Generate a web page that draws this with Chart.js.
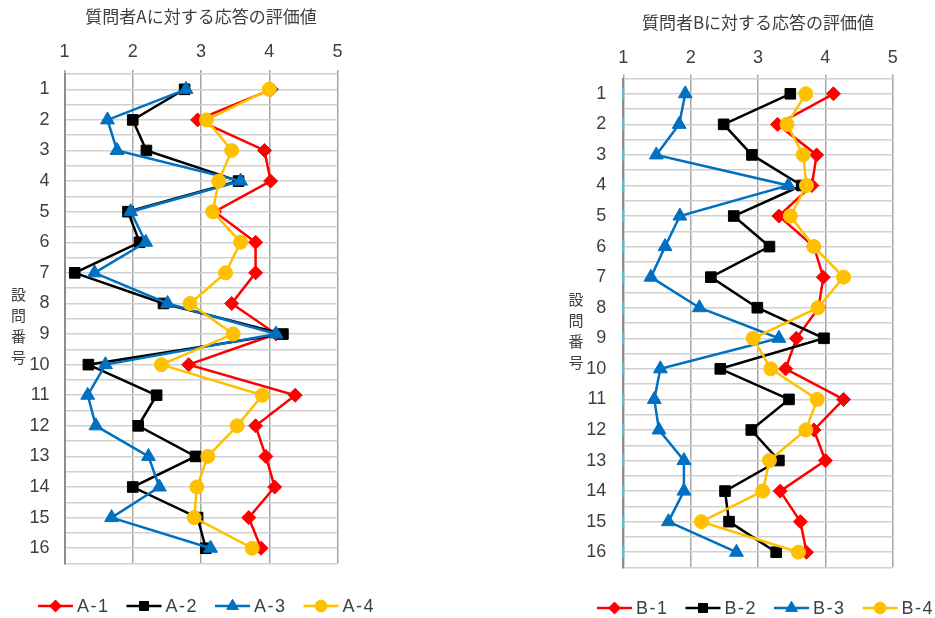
<!DOCTYPE html>
<html>
<head>
<meta charset="utf-8">
<script src="https://cdn.jsdelivr.net/npm/chart.js@4/dist/chart.umd.min.js"></script>
<style>
  html, body { margin: 0; padding: 0; background: #fff; overflow: hidden; }
  canvas { position: absolute; top: 0; }
  #chartA { left: 0; }
  #chartB { left: 560px; }
</style>
</head>
<body>
<canvas id="chartA" width="380" height="618"></canvas>
<canvas id="chartB" width="375" height="618"></canvas>
<script>
// question numbers down the side, rating scale along the top
const questionNos = [1, 2, 3, 4, 5, 6, 7, 8, 9, 10, 11, 12, 13, 14, 15, 16]
const ratingTicks = [1, 2, 3, 4, 5]

// ratings for questioner A
const a1 = [4.03, 2.95, 3.93, 4.02, 3.2, 3.8, 3.8, 3.45, 4.1, 2.82, 4.38, 3.8, 3.95, 4.08, 3.7, 3.88]
const a2 = [2.76, 2.0, 2.2, 3.55, 1.93, 2.1, 1.15, 2.45, 4.2, 1.35, 2.35, 2.08, 2.92, 2.0, 2.95, 3.07]
const a3 = [2.78, 1.63, 1.77, 3.58, 1.97, 2.19, 1.44, 2.51, 4.1, 1.6, 1.34, 1.46, 2.23, 2.39, 1.69, 3.14]
const a4 = [4.0, 3.08, 3.45, 3.26, 3.17, 3.58, 3.36, 2.84, 3.47, 2.42, 3.9, 3.53, 3.1, 2.94, 2.9, 3.75]

// ratings for questioner B
const b1 = [4.12, 3.29, 3.87, 3.8, 3.31, 3.83, 3.97, 3.9, 3.57, 3.41, 4.27, 3.83, 4.0, 3.33, 3.63, 3.72]
const b2 = [3.48, 2.49, 2.91, 3.65, 2.64, 3.17, 2.3, 2.99, 3.98, 2.44, 3.46, 2.9, 3.31, 2.51, 2.57, 3.27]
const b3 = [1.92, 1.83, 1.49, 3.45, 1.84, 1.62, 1.41, 2.13, 3.31, 1.55, 1.46, 1.53, 1.9, 1.9, 1.67, 2.68]
const b4 = [3.71, 3.43, 3.67, 3.72, 3.48, 3.83, 4.27, 3.89, 2.93, 3.19, 3.88, 3.71, 3.17, 3.07, 2.16, 3.6]

const namesA = ['A-1', 'A-2', 'A-3', 'A-4']
const namesB = ['B-1', 'B-2', 'B-3', 'B-4']

const colors = ['#ff0000', '#000000', '#0070c0', '#ffc000']
const markers = ['rectRot', 'rect', 'triangle', 'circle']
const markerSizes = [7, 7.5, 8, 7]
const textColor = '#404040'
const latinFont = '"Liberation Sans", Arial, sans-serif'
const cjkFont = '"Noto Sans CJK JP", sans-serif'

Chart.defaults.font.family = latinFont
Chart.defaults.color = textColor

// stacked, upright axis title (設問番号) down the left side
const verticalTitle = {
  id: 'verticalTitle',
  afterDraw(chart, args, opts) {
    const ctx = chart.ctx
    ctx.save()
    ctx.font = '15px ' + cjkFont
    ctx.fillStyle = textColor
    ctx.textAlign = 'center'
    ctx.textBaseline = 'middle'
    const chars = [...opts.text]
    const top = opts.y - (chars.length - 1) * opts.step / 2
    chars.forEach((c, i) => ctx.fillText(c, opts.x, top + i * opts.step))
    ctx.restore()
  }
}

// legend with a line through each marker, like the spreadsheet one
const lineLegend = {
  id: 'lineLegend',
  afterDraw(chart, args, opts) {
    const ctx = chart.ctx
    ctx.save()
    ctx.font = '18px ' + latinFont
    ctx.letterSpacing = '1.5px'
    ctx.textBaseline = 'middle'
    let x = opts.x
    const y = opts.y
    chart.data.datasets.forEach(ds => {
      if (!ds.inLegend) return
      ctx.strokeStyle = ds.borderColor
      ctx.fillStyle = ds.backgroundColor
      ctx.lineWidth = 2.5
      ctx.beginPath()
      ctx.moveTo(x, y)
      ctx.lineTo(x + 35, y)
      ctx.stroke()
      ctx.lineWidth = 1
      Chart.helpers.drawPoint(ctx, { pointStyle: ds.pointStyle, radius: ds.pointRadius * 0.85, rotation: 0, borderWidth: 1 }, x + 17.5, y)
      ctx.fillStyle = textColor
      ctx.fillText(ds.label, x + 39, y + 1)
      x += 39 + ctx.measureText(ds.label).width + 17
    })
    ctx.restore()
  }
}

function buildChart(id, title, series, names, geo) {
  const datasets = series.map((vals, i) => ({
    label: names[i],
    inLegend: true,
    data: vals.map((v, j) => ({ x: v, y: questionNos[j] })),
    borderColor: colors[i],
    backgroundColor: colors[i],
    pointStyle: markers[i],
    pointRadius: markerSizes[i],
    pointHoverRadius: markerSizes[i],
    borderWidth: 2.5,
    pointBorderWidth: 1,
    showLine: true,
    order: series.length - i
  }))
  if (geo.edgeMarks) {
    datasets.push({
      label: 'edge',
      data: questionNos.map(q => ({ x: ratingTicks[0], y: q })),
      pointStyle: 'line',
      rotation: 90,
      pointRadius: 6,
      borderColor: '#4fc3e6',
      pointBorderWidth: 2,
      showLine: false,
      clip: false,
      order: 10
    })
  }

  return new Chart(document.getElementById(id), {
    type: 'scatter',
    data: { datasets },
    options: {
      responsive: false,
      animation: false,
      events: [],
      layout: { padding: geo.padding },
      plugins: {
        legend: { display: false },
        tooltip: { enabled: false },
        title: {
          display: true,
          text: title,
          fullSize: false,
          color: textColor,
          font: { family: cjkFont, size: 17, weight: 'normal' },
          padding: { top: geo.titleTop, bottom: 0 }
        },
        verticalTitle: geo.yTitle,
        lineLegend: geo.legend
      },
      scales: {
        x: {
          type: 'linear',
          position: 'top',
          min: ratingTicks[0],
          max: ratingTicks[ratingTicks.length - 1],
          afterFit: s => { s.height = geo.xAxisH },
          ticks: { stepSize: 1, padding: geo.xPad, font: { size: 18 }, color: textColor },
          grid: { color: '#a6a6a6', lineWidth: 1.5, tickLength: 4 },
          border: { display: false }
        },
        y: {
          type: 'linear',
          reverse: true,
          min: 0.5,
          max: 16.5,
          afterFit: s => { s.width = geo.yAxisW },
          ticks: {
            stepSize: 0.5,
            autoSkip: false,
            padding: geo.yPad,
            font: { size: 18 },
            color: textColor,
            callback: v => questionNos.includes(v) ? v : ''
          },
          grid: { color: '#d0d0d0', lineWidth: 1.5, drawTicks: false },
          border: { color: '#8c8c8c', width: 2 }
        }
      }
    },
    plugins: [verticalTitle, lineLegend]
  })
}

buildChart('chartA', '質問者Aに対する応答の評価値', [a1, a2, a3, a4], namesA, {
  padding: { left: 0, right: 42.5, top: 0, bottom: 54.5 },
  titleTop: 6.8,
  xAxisH: 46.8,
  xPad: 7.2,
  yAxisW: 64.5,
  yPad: 15,
  yTitle: { text: '設問番号', x: 18.5, y: 326, step: 21 },
  legend: { x: 38, y: 606 },
  edgeMarks: false
})

buildChart('chartB', '質問者Bに対する応答の評価値', [b1, b2, b3, b4], namesB, {
  padding: { left: 0, right: 42.3, top: 0, bottom: 50.5 },
  titleTop: 12.8,
  xAxisH: 45.3,
  xPad: 5.7,
  yAxisW: 63.3,
  yPad: 17,
  yTitle: { text: '設問番号', x: 16, y: 331, step: 21 },
  legend: { x: 37, y: 608 },
  edgeMarks: true
})
</script>
</body>
</html>
